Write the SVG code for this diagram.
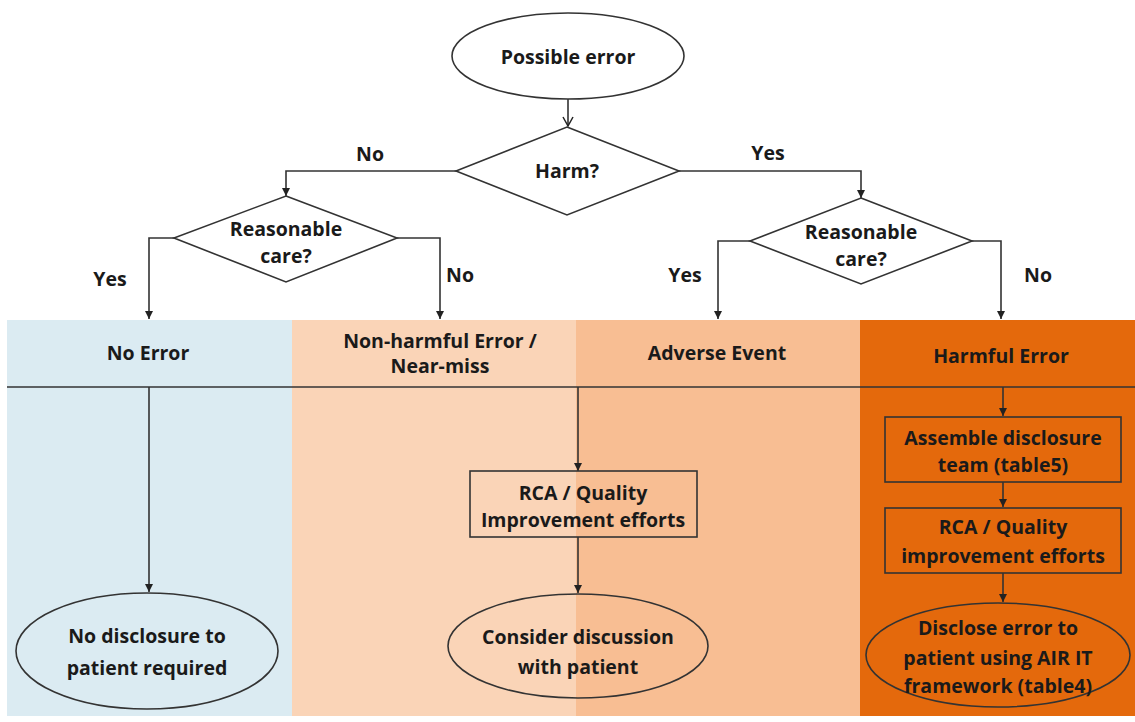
<svg xmlns="http://www.w3.org/2000/svg" width="1135" height="722" viewBox="0 0 1135 722">
<defs>
<marker id="ah" markerWidth="10" markerHeight="10" refX="9" refY="5" orient="auto" markerUnits="userSpaceOnUse">
<path d="M1,1 L9,5 L1,9 Z" fill="#222"/>
</marker>
<marker id="av" markerWidth="12" markerHeight="12" refX="10" refY="6" orient="auto" markerUnits="userSpaceOnUse">
<path d="M1,1 L10,6 L1,11" fill="none" stroke="#222" stroke-width="1.5"/>
</marker>
</defs>
<style>
text{font-family:"Open Sans",Lato,"Liberation Sans",sans-serif;font-weight:bold;font-size:19.5px;fill:#1a1a1a;text-anchor:middle}
.sh{fill:none;stroke:#333;stroke-width:1.6}
.ln{fill:none;stroke:#333;stroke-width:1.6}
.ar{marker-end:url(#ah)}
</style>
<rect width="1135" height="722" fill="#ffffff"/>
<g id="panels">
<rect x="7" y="320" width="285" height="396" fill="#DBEBF2"/>
<rect x="292" y="320" width="284" height="396" fill="#FAD4B7"/>
<rect x="576" y="320" width="284" height="396" fill="#F8BE93"/>
<rect x="860" y="320" width="275" height="396" fill="#E4690C"/>
<line x1="7" y1="387" x2="1135" y2="387" stroke="#333" stroke-width="1.6"/>
<text x="148" y="360">No Error</text>
<text x="440" y="348">Non-harmful Error /</text>
<text x="440" y="373">Near-miss</text>
<text x="717" y="360">Adverse Event</text>
<text x="1001" y="363">Harmful Error</text>
</g>
<g id="connectors">
<line class="ln" x1="568" y1="99" x2="568" y2="126" marker-end="url(#av)"/>
<polyline class="ln ar" points="456,171 286,171 286,196"/>
<polyline class="ln ar" points="679,171 861,171 861,198"/>
<polyline class="ln ar" points="174,238 149,238 149,319"/>
<polyline class="ln ar" points="397,238 440,238 440,319"/>
<polyline class="ln ar" points="750,241 718,241 718,319"/>
<polyline class="ln ar" points="972,241 1001,241 1001,319"/>
<line class="ln ar" x1="149" y1="387" x2="149" y2="592"/>
<line class="ln ar" x1="578" y1="387" x2="578" y2="471"/>
<line class="ln ar" x1="578" y1="537" x2="578" y2="593"/>
<line class="ln ar" x1="1003" y1="387" x2="1003" y2="416"/>
<line class="ln ar" x1="1003" y1="482" x2="1003" y2="507"/>
<line class="ln ar" x1="1003" y1="573" x2="1003" y2="602"/>
<text x="370" y="161">No</text>
<text x="768" y="160">Yes</text>
<text x="110" y="286">Yes</text>
<text x="460" y="282">No</text>
<text x="685" y="282">Yes</text>
<text x="1038" y="282">No</text>
</g>
<g id="start">
<ellipse cx="568" cy="56" rx="116" ry="43" fill="#fff" stroke="#333" stroke-width="1.6"/>
<text x="568" y="64">Possible error</text>
</g>
<g id="harm">
<polygon class="sh" points="567,127 679,171 567,215 456,171" fill="#fff"/>
<text x="567" y="178">Harm?</text>
</g>
<g id="care-left">
<polygon class="sh" points="286,196 397,238 286,282 174,238"/>
<text x="286" y="236">Reasonable</text>
<text x="286" y="263">care?</text>
</g>
<g id="care-right">
<polygon class="sh" points="861,198 972,241 861,284 750,241"/>
<text x="861" y="239">Reasonable</text>
<text x="861" y="266">care?</text>
</g>
<g id="no-disclosure">
<ellipse class="sh" cx="147" cy="651" rx="131" ry="58"/>
<text x="147" y="643">No disclosure to</text>
<text x="147" y="675">patient required</text>
</g>
<g id="rca-mid">
<rect class="sh" x="470" y="471" width="227" height="66"/>
<text x="583" y="500">RCA / Quality</text>
<text x="583" y="527">Improvement efforts</text>
</g>
<g id="consider">
<ellipse class="sh" cx="578" cy="646" rx="130" ry="52"/>
<text x="578" y="644">Consider discussion</text>
<text x="578" y="674">with patient</text>
</g>
<g id="assemble">
<rect class="sh" x="885" y="417" width="236" height="65"/>
<text x="1003" y="445">Assemble disclosure</text>
<text x="1003" y="472">team (table5)</text>
</g>
<g id="rca-right">
<rect class="sh" x="885" y="508" width="236" height="65"/>
<text x="1003" y="534">RCA / Quality</text>
<text x="1003" y="563">improvement efforts</text>
</g>
<g id="disclose">
<ellipse class="sh" cx="998" cy="655" rx="132" ry="52"/>
<text x="998" y="635">Disclose error to</text>
<text x="998" y="665">patient using AIR IT</text>
<text x="998" y="693">framework (table4)</text>
</g>
</svg>
